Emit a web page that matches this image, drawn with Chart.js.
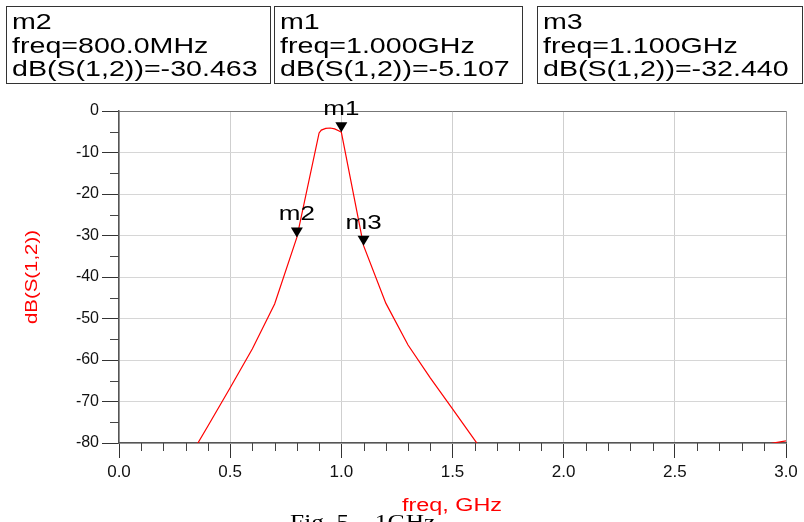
<!DOCTYPE html>
<html>
<head>
<meta charset="utf-8">
<script src="https://cdn.jsdelivr.net/npm/chart.js@4.4.0/dist/chart.umd.min.js"></script>
<style>
    html, body { margin: 0; padding: 0; background: #ffffff; }
    #wrap { width: 804px; height: 522px; }
</style>
</head>
<body>
<div id="wrap"><canvas id="s12Chart" width="804" height="522"></canvas></div>
<script>
// S(1,2) sweep (GHz / dB)
const freqGHz = [0.3, 0.4, 0.5, 0.6, 0.7, 0.8, 0.9, 0.91, 0.93, 0.95, 0.97, 0.99, 1.0,
    1.1, 1.2, 1.3, 1.4, 1.5, 1.6, 1.7, 2.0, 2.5, 2.9, 3.0];
const s12dB = [-85, -75.9, -66.7, -57.3, -46.5, -30.463, -5.3, -4.6, -4.2, -4.1, -4.3, -4.8, -5.107,
    -32.44, -46.3, -56.4, -64.3, -71.8, -79.3, -87, -100, -98, -80.4, -79.5];

// markers
const markerNames = ['m1', 'm2', 'm3'];
const markerFreq = [1.0, 0.8, 1.1];
const markerValues = [-5.107, -30.463, -32.44];
const markerFreqText = ['1.000GHz', '800.0MHz', '1.100GHz'];

// axis ticks
const xTicks = [0.0, 0.5, 1.0, 1.5, 2.0, 2.5, 3.0];
const yTicks = [0, -10, -20, -30, -40, -50, -60, -70, -80];

const FONT = '"Liberation Sans", Arial, sans-serif';

function stretchText(ctx, text, x, y, sx, align) {
    ctx.save();
    ctx.translate(x, y);
    ctx.scale(sx, 1);
    ctx.textAlign = align;
    ctx.fillText(text, 0, 0);
    ctx.restore();
}

const adsPlugin = {
    id: 'adsPlugin',
    afterDraw(chart) {
        const ctx = chart.ctx;
        const xs = chart.scales.x;
        const ys = chart.scales.y;
        const area = chart.chartArea;

        // minor ticks
        ctx.save();
        ctx.strokeStyle = '#444444';
        ctx.lineWidth = 1;
        ctx.beginPath();
        for (let i = 1; i < 30; i++) {
            if (i % 5 === 0) continue;
            const px = Math.round(xs.getPixelForValue(i / 10)) + 0.5;
            ctx.moveTo(px, area.bottom);
            ctx.lineTo(px, area.bottom + 8);
        }
        for (let v = -5; v > -80; v -= 10) {
            const py = Math.round(ys.getPixelForValue(v)) + 0.5;
            ctx.moveTo(area.left - 9, py);
            ctx.lineTo(area.left, py);
        }
        ctx.stroke();
        ctx.restore();

        // marker triangles and names
        ctx.save();
        ctx.fillStyle = '#000000';
        for (let i = 0; i < markerNames.length; i++) {
            const px = xs.getPixelForValue(markerFreq[i]);
            const py = ys.getPixelForValue(markerValues[i]);
            ctx.beginPath();
            ctx.moveTo(px - 6, py - 10);
            ctx.lineTo(px + 6, py - 10);
            ctx.lineTo(px, py);
            ctx.closePath();
            ctx.fill();
            ctx.font = '20px ' + FONT;
            ctx.textBaseline = 'alphabetic';
            stretchText(ctx, markerNames[i], px, py - 17, 1.3, 'center');
        }
        ctx.restore();

        // marker readout boxes (order m2, m1, m3)
        const boxOrder = [1, 0, 2];
        const boxLeft = [6, 274, 537];
        const boxRight = [270, 522, 802];
        ctx.save();
        ctx.strokeStyle = '#333333';
        ctx.lineWidth = 1;
        ctx.fillStyle = '#000000';
        ctx.font = '22px ' + FONT;
        ctx.textBaseline = 'alphabetic';
        for (let b = 0; b < 3; b++) {
            const i = boxOrder[b];
            ctx.strokeRect(boxLeft[b] + 0.5, 6.5, boxRight[b] - boxLeft[b], 77);
            const lines = [
                markerNames[i],
                'freq=' + markerFreqText[i],
                'dB(S(1,2))=' + markerValues[i].toFixed(3)
            ];
            for (let l = 0; l < 3; l++) {
                stretchText(ctx, lines[l], boxLeft[b] + 6, 29 + l * 23.5, 1.3, 'left');
            }
        }
        ctx.restore();

        // axis titles
        ctx.save();
        ctx.fillStyle = '#ff0000';
        ctx.font = '18px ' + FONT;
        ctx.textBaseline = 'alphabetic';
        stretchText(ctx, 'freq, GHz', 452, 511, 1.3, 'center');
        ctx.translate(37, 277);
        ctx.rotate(-Math.PI / 2);
        ctx.font = '17px ' + FONT;
        stretchText(ctx, 'dB(S(1,2))', 0, 0, 1.2, 'center');
        ctx.restore();

        // caption, mostly cut off by the page edge
        ctx.save();
        ctx.fillStyle = '#000000';
        ctx.font = '20px "Liberation Serif", "Times New Roman", serif';
        ctx.textBaseline = 'top';
        stretchText(ctx, 'Fig. 5    1GHz', 290, 514, 1.27, 'left');
        ctx.restore();
    }
};

function initS12Chart() {
    const s12Ctx = document.getElementById('s12Chart');
    if (s12Ctx) {
        new Chart(s12Ctx.getContext('2d'), {
            type: 'line',
            data: {
                datasets: [{
                    label: 'dB(S(1,2))',
                    data: freqGHz.map((f, i) => ({ x: f, y: s12dB[i] })),
                    borderColor: '#ff0000',
                    borderWidth: 1.2,
                    pointRadius: 0,
                    fill: false,
                    tension: 0
                }]
            },
            options: {
                responsive: false,
                devicePixelRatio: 1,
                animation: false,
                layout: {
                    padding: { left: 0, top: 111, right: 18, bottom: 0 }
                },
                plugins: {
                    legend: { display: false },
                    tooltip: { enabled: false }
                },
                scales: {
                    x: {
                        type: 'linear',
                        min: 0,
                        max: 3,
                        afterBuildTicks: (s) => { s.ticks = xTicks.map(v => ({ value: v })); },
                        afterFit: (s) => { s.height = 79; },
                        border: { display: true, color: '#555555', width: 1.5 },
                        grid: {
                            color: (c) => (c.tick && c.tick.value === 3) ? '#999999' : '#cfcfcf',
                            lineWidth: 1,
                            tickLength: 15,
                            tickColor: '#333333'
                        },
                        ticks: {
                            color: '#111111',
                            padding: 4,
                            maxRotation: 0,
                            font: { family: FONT, size: 17 },
                            callback: (v) => v.toFixed(1)
                        }
                    },
                    y: {
                        type: 'linear',
                        min: -80,
                        max: 0,
                        afterBuildTicks: (s) => { s.ticks = yTicks.map(v => ({ value: v })); },
                        afterFit: (s) => { s.width = 119; },
                        border: { display: true, color: '#555555', width: 1.5 },
                        grid: {
                            color: (c) => (c.tick && c.tick.value === 0) ? '#777777' : '#d6d6d6',
                            lineWidth: 1,
                            tickLength: 17,
                            tickColor: '#333333'
                        },
                        ticks: {
                            color: '#111111',
                            padding: 3,
                            font: { family: FONT, size: 16 },
                            callback: (v) => String(v)
                        }
                    }
                }
            },
            plugins: [adsPlugin]
        });
    }
}

initS12Chart();
</script>
</body>
</html>
